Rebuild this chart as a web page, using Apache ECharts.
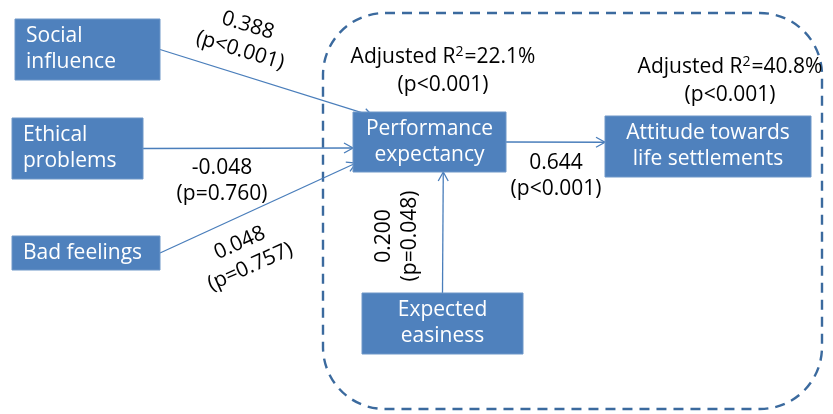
<!DOCTYPE html>
<html><head><meta charset="utf-8">
<script src="https://cdn.jsdelivr.net/npm/echarts@6/dist/echarts.min.js"></script>
<style>html,body{margin:0;padding:0;background:#fff}#c{width:833px;height:414px}</style>
</head><body><div id="c"></div>
<script>
// ---- content ----
const constructs = ['Social\ninfluence', 'Ethical\nproblems', 'Bad feelings', 'Performance\nexpectancy', 'Attitude towards\nlife settlements', 'Expected\neasiness'];
const pathFrom = [0, 1, 2, 3, 5];
const pathTo = [3, 3, 3, 4, 3];
const pathCoef = ['0.388', '-0.048', '0.048', '0.644', '0.200'];
const pathP = ['(p<0.001)', '(p=0.760)', '(p=0.757)', '(p<0.001)', '(p=0.048)'];
const r2Target = [3, 4];
const r2Value = ['22.1%', '40.8%'];
const r2P = ['(p<0.001)', '(p<0.001)'];

// ---- layout (diagram units) ----
const boxes = [[15,19,160,80],[12,118,143,179],[12,236,160,270],[353,112,506,172],[605,116,811,177],[362,293,523,354]];
const boxAlign = ['left','left','left','center','center','center'];
const srcAnchor = [[1,0.5],[1,0.5],[1,0.5],[1,0.5],[0.5,0]];
const dstAnchor = [[0.13,0.07],[0,0.6],[0.02,0.85],[0,0.43],[0.59,1]];
const pathLabelPos = [[244,38],[222,181],[245,255],[556,176],[397,236]];
const pathLabelRot = [-17,0,24,0,90];
const r2LabelPos = [[443,71],[730,81]];
const frame = [323,13,822,409];

const FONT = '"Open Sans", "Noto Sans", sans-serif';
const FS = 21, LH = 26;
const BOX = '#4F81BD', LINE = '#4A7EBB', FRAME = '#3B6A9E';

function anchor(b, a){ return [b[0] + (b[2]-b[0])*a[0], b[1] + (b[3]-b[1])*a[1]]; }

const chart = echarts.init(document.getElementById('c'), null, {renderer:'canvas'});
chart.setOption({
  animation: false,
  grid: {left:0, right:0, top:0, bottom:0},
  xAxis: {type:'value', min:0, max:833, show:false},
  yAxis: {type:'value', min:0, max:414, inverse:true, show:false},
  series: [
    { // dashed frame
      type:'custom', coordinateSystem:'cartesian2d', data:[[0]], silent:true, z:1,
      renderItem: function(params, api){
        const p0 = api.coord([frame[0], frame[1]]), p1 = api.coord([frame[2], frame[3]]);
        return {type:'rect', shape:{x:p0[0], y:p0[1], width:p1[0]-p0[0], height:p1[1]-p0[1], r:62},
          style:{fill:'none', stroke:FRAME, lineWidth:2.4, lineDash:[10,7]}};
      }
    },
    { // paths
      type:'custom', coordinateSystem:'cartesian2d', silent:true, z:2,
      data: pathFrom.map((f,i)=>[i]),
      renderItem: function(params, api){
        const i = api.value(0);
        const s = anchor(boxes[pathFrom[i]], srcAnchor[i]);
        const t = anchor(boxes[pathTo[i]], dstAnchor[i]);
        const a = api.coord(s), b = api.coord(t);
        const dx = b[0]-a[0], dy = b[1]-a[1], L = Math.hypot(dx,dy);
        const ux = dx/L, uy = dy/L, len = 9, hw = 5;
        const bx = b[0]-ux*len, by = b[1]-uy*len;
        return {type:'group', children:[
          {type:'line', shape:{x1:a[0], y1:a[1], x2:b[0], y2:b[1]}, style:{stroke:LINE, lineWidth:1.3}},
          {type:'polyline', shape:{points:[[bx - uy*hw, by + ux*hw],[b[0],b[1]],[bx + uy*hw, by - ux*hw]]},
            style:{fill:'none', stroke:LINE, lineWidth:1.3}}
        ]};
      }
    },
    { // construct boxes
      type:'custom', coordinateSystem:'cartesian2d', silent:true, z:3,
      data: constructs.map((c,i)=>[i]),
      renderItem: function(params, api){
        const i = api.value(0), b = boxes[i];
        const p0 = api.coord([b[0], b[1]]), p1 = api.coord([b[2], b[3]]);
        const left = boxAlign[i] === 'left';
        return {type:'group', children:[
          {type:'rect', shape:{x:p0[0], y:p0[1], width:p1[0]-p0[0], height:p1[1]-p0[1]},
            style:{fill:BOX, stroke:'#6E97C8', lineWidth:1}},
          {type:'text', x: left ? p0[0]+11 : (p0[0]+p1[0])/2, y:(p0[1]+p1[1])/2,
            style:{text:constructs[i], fill:'#fff', font:FS+'px '+FONT, lineHeight:LH,
              align: left ? 'left' : 'center', verticalAlign:'middle'}}
        ]};
      }
    },
    { // path coefficient labels
      type:'custom', coordinateSystem:'cartesian2d', silent:true, z:4,
      data: pathCoef.map((c,i)=>[i]),
      renderItem: function(params, api){
        const i = api.value(0);
        const p = api.coord(pathLabelPos[i]);
        return {type:'text', x:p[0], y:p[1], rotation: pathLabelRot[i]*Math.PI/180,
          style:{text: pathCoef[i] + '\n' + pathP[i], fill:'#000', font:FS+'px '+FONT, lineHeight:LH,
            align:'center', verticalAlign:'middle'}};
      }
    },
    { // R2 labels
      type:'custom', coordinateSystem:'cartesian2d', silent:true, z:4,
      data: r2Value.map((c,i)=>[i]),
      renderItem: function(params, api){
        const i = api.value(0);
        const p = api.coord(r2LabelPos[i]);
        return {type:'text', x:p[0], y:p[1],
          style:{text: '{n|Adjusted R}{s|2}{n|=' + r2Value[i] + '}\n{n|' + r2P[i] + '}',
            align:'center', verticalAlign:'middle',
            rich:{
              n:{fill:'#000', fontSize:FS, fontFamily:FONT, lineHeight:LH+2},
              s:{fill:'#000', fontSize:14, fontFamily:FONT, lineHeight:LH+2, padding:[0,1,9,0]}
            }}};
      }
    }
  ]
});
</script></body></html>
